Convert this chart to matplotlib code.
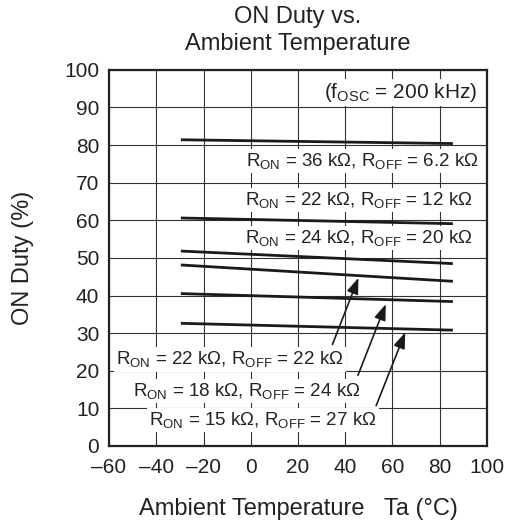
import matplotlib
matplotlib.use("Agg")
import matplotlib.pyplot as plt

plt.rcParams['font.family'] = ['Liberation Sans', 'DejaVu Sans']
plt.rcParams['mathtext.fontset'] = 'custom'
plt.rcParams['mathtext.rm'] = 'Liberation Sans'
plt.rcParams['mathtext.it'] = 'Liberation Sans:italic'

# temperature range of the curves
temps = [-29, 85]

# ON duty (%) at start / end of each curve
duty_36_62 = [81.4, 80.4]
duty_22_12 = [60.6, 59.1]
duty_24_20 = [51.8, 48.5]
duty_22_22 = [48.1, 43.8]
duty_18_24 = [40.5, 38.4]
duty_15_27 = [32.6, 30.8]

curves = [duty_36_62, duty_22_12, duty_24_20, duty_22_22, duty_18_24, duty_15_27]

def rlabel(ron, roff):
    return (r'R$_{\rm ON}$ = ' + ron + r' k$\Omega$, R$_{\rm OFF}$ = '
            + roff + r' k$\Omega$')

fig = plt.figure(figsize=(5.12, 5.21), dpi=100)
ax = fig.add_axes([0.213, 0.144, 0.738, 0.722])

for c in curves:
    ax.plot(temps, c, color='#1a1a1a', lw=2.0, zorder=3)

ax.set_xlim(-60, 100)
ax.set_ylim(0, 100)
ax.set_xticks(range(-60, 101, 20))
ax.set_xticklabels(['\u201360', '\u201340', '\u201320', '0', '20', '40', '60', '80', '100'])
ax.set_yticks(range(0, 101, 10))
ax.tick_params(labelsize=15, length=0, colors='#222222')
ax.tick_params(axis='x', pad=9)
ax.tick_params(axis='y', pad=7)
ax.grid(True, color='#333333', lw=0.8)
for s in ax.spines.values():
    s.set_linewidth(1.6)
    s.set_color('#222222')

ax.set_title('ON Duty vs.\nAmbient Temperature', fontsize=17, color='#222222',
             linespacing=1.3, pad=14)
ax.set_xlabel('Ambient Temperature   Ta (\u00b0C)', fontsize=17, color='#222222', labelpad=15)
ax.set_ylabel('ON Duty (%)', fontsize=17, color='#222222', labelpad=22)

box = dict(facecolor='white', edgecolor='none', pad=1.5)
fs = 13.5
ax.text(96, 93.9, r'(f$_{\rm OSC}$ = 200 kHz)', ha='right', va='center',
        fontsize=15, color='#222222', bbox=box, zorder=4)
ax.text(96.5, 75.7, rlabel('36', '6.2'), ha='right', va='center',
        fontsize=fs, color='#222222', bbox=box, zorder=4)
ax.text(94, 65.5, rlabel('22', '12'), ha='right', va='center',
        fontsize=fs, color='#222222', bbox=box, zorder=4)
ax.text(94, 55.4, rlabel('24', '20'), ha='right', va='center',
        fontsize=fs, color='#222222', bbox=box, zorder=4)

ax.text(-8.7, 23, rlabel('22', '22'), ha='center', va='center',
        fontsize=fs, color='#222222', bbox=box, zorder=4)
ax.text(-1.6, 14.7, rlabel('18', '24'), ha='center', va='center',
        fontsize=fs, color='#222222', bbox=box, zorder=4)
ax.text(5.3, 7, rlabel('15', '27'), ha='center', va='center',
        fontsize=fs, color='#222222', bbox=box, zorder=4)

arrow = dict(arrowstyle='-|>,head_length=0.6,head_width=0.22', color='#1a1a1a',
             lw=1.2, mutation_scale=16, shrinkA=0, shrinkB=0)
ax.annotate('', xy=(45.6, 44.7), xytext=(34.6, 27), arrowprops=arrow, zorder=5)
ax.annotate('', xy=(57.2, 37.7), xytext=(45.4, 18.8), arrowprops=arrow, zorder=5)
ax.annotate('', xy=(65.4, 30.2), xytext=(53.1, 10.7), arrowprops=arrow, zorder=5)

plt.savefig('out.png', dpi=100)
